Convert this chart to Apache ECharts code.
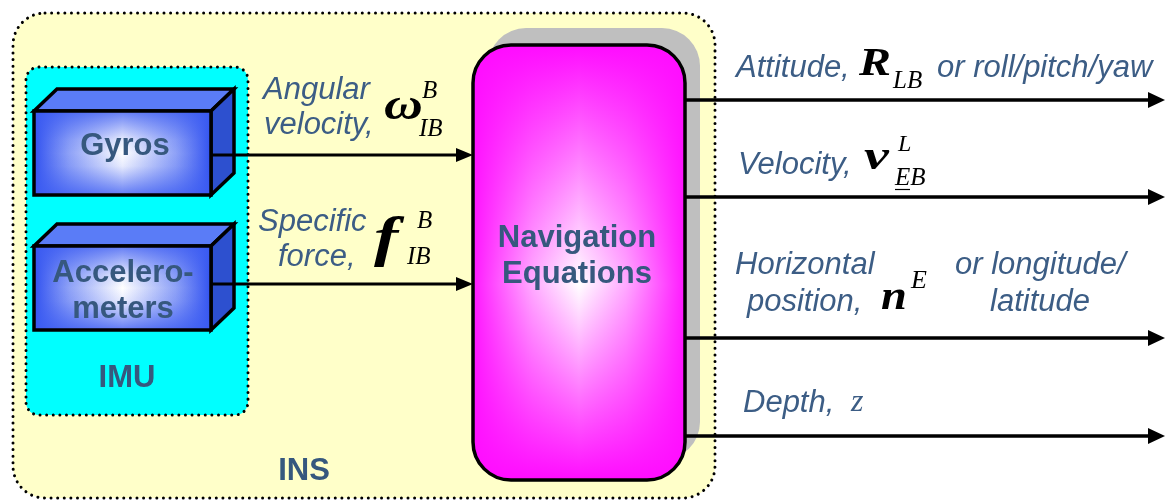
<!DOCTYPE html>
<html>
<head>
<meta charset="utf-8">
<script src="https://cdn.jsdelivr.net/npm/echarts@6/dist/echarts.min.js"></script>
<style>
html,body{margin:0;padding:0;background:#fff;}
#c{width:1165px;height:501px;}
</style>
</head>
<body>
<div id="c"></div>
<script>
// ---- diagram content (text) ----
const blockNames = ['Gyros', 'Accelero-', 'meters', 'IMU', 'INS', 'Navigation', 'Equations'];
const inputLabels = ['Angular', 'velocity,', 'Specific', 'force,'];
const inputSymbols = ['\u03C9', 'f'];
const inputSup = ['B', 'B'];
const inputSub = ['IB', 'IB'];
const outputLabels = ['Attitude,', 'or roll/pitch/yaw', 'Velocity,', 'Horizontal', 'position,', 'or longitude/', 'latitude', 'Depth,'];
const outputSymbols = ['R', 'v', 'n', 'z'];
const outputSup = ['', 'L', 'E', ''];
const outputSub = ['LB', 'EB', '', ''];

const SANS = "'Liberation Sans', Arial, sans-serif";
const SERIF = "'Liberation Serif', 'Times New Roman', serif";
const BLUE_TXT = '#3C5D85';
const BOLD_TXT = '#36587E';

const els = [];

function T(text, x, base, size, o) {
  o = o || {};
  const k = o.serif ? 0.32 : 0.31;
  els.push({
    type: 'text', x: x, y: base - k * size, z: 10,
    scaleX: o.sx || 1,
    style: {
      text: text,
      font: (o.italic ? 'italic ' : '') + (o.bold ? 'bold ' : '') + size + 'px ' + (o.serif ? SERIF : SANS),
      fill: o.color || '#000',
      align: o.align || 'left',
      verticalAlign: 'middle'
    }
  });
}
function dotted(x, y, w, h, r, fill) {
  els.push({ type: 'rect', shape: { x: x, y: y, width: w, height: h, r: r }, style: { fill: fill, stroke: null } });
  els.push({ type: 'rect', shape: { x: x, y: y, width: w, height: h, r: r },
    style: { fill: null, stroke: '#000', lineWidth: 3, lineDash: [0.01, 6.6], lineCap: 'round' }, z: 2 });
}
function box3d(x, y, w, h, dx, dy) {
  const S = { stroke: '#000', lineWidth: 3.5, lineJoin: 'miter' };
  els.push({ type: 'polygon', z: 3, shape: { points: [[x, y], [x + dx, y - dy], [x + w + dx, y - dy], [x + w, y]] },
    style: Object.assign({ fill: '#5A7CF7' }, S) });
  els.push({ type: 'polygon', z: 3, shape: { points: [[x + w, y], [x + w + dx, y - dy], [x + w + dx, y + h - dy], [x + w, y + h]] },
    style: Object.assign({ fill: '#2D50CF' }, S) });
  els.push({ type: 'rect', z: 3, shape: { x: x, y: y, width: w, height: h },
    style: { fill: { type: 'linear', x: 0, y: 0, x2: 1, y2: 0, colorStops: [
      { offset: 0, color: '#3152F0' }, { offset: 0.2, color: '#8FA2F7' }, { offset: 0.5, color: '#FFFFFF' },
      { offset: 0.8, color: '#8FA2F7' }, { offset: 1, color: '#3152F0' }] } } });
  els.push({ type: 'rect', z: 3, shape: { x: x, y: y, width: w, height: h },
    style: Object.assign({ fill: { type: 'linear', x: 0, y: 0, x2: 0, y2: 1, colorStops: [
      { offset: 0, color: 'rgba(60,92,242,0.85)' }, { offset: 0.35, color: 'rgba(60,92,242,0.12)' },
      { offset: 0.5, color: 'rgba(60,92,242,0)' }, { offset: 0.65, color: 'rgba(60,92,242,0.12)' },
      { offset: 1, color: 'rgba(60,92,242,0.85)' }] } }, S) });
}
function arrow(x1, x2, y, lw, head, half) {
  els.push({ type: 'line', z: 5, shape: { x1: x1, y1: y, x2: x2 - head + 2, y2: y }, style: { stroke: '#000', lineWidth: lw } });
  els.push({ type: 'polygon', z: 5, shape: { points: [[x2 - head, y - half], [x2, y], [x2 - head, y + half]] }, style: { fill: '#000' } });
}

// INS and IMU containers
dotted(13, 13, 702, 485, 32, '#FFFFC9');
dotted(26, 67, 222, 348, 13, '#00FFFF');

// sensor blocks
box3d(34, 111, 177, 84, 23, 22);
box3d(34, 246, 177, 84, 23, 22);

// navigation equations block
els.push({ type: 'rect', z: 3, shape: { x: 488, y: 28, width: 212, height: 432, r: 38 }, style: { fill: '#BFBFBF' } });
els.push({ type: 'rect', z: 4, shape: { x: 473, y: 45, width: 212, height: 435, r: 38 },
  style: { fill: { type: 'linear', x: 0, y: 0, x2: 0, y2: 1, colorStops: [
    { offset: 0, color: '#FF0CFF' }, { offset: 0.22, color: '#FF6CFF' }, { offset: 0.55, color: '#FFFFFF' },
    { offset: 0.82, color: '#FF6CFF' }, { offset: 1, color: '#FF0CFF' }] } } });
els.push({ type: 'rect', z: 4, shape: { x: 473, y: 45, width: 212, height: 435, r: 38 },
  style: { fill: { type: 'linear', x: 0, y: 0, x2: 1, y2: 0, colorStops: [
    { offset: 0, color: 'rgba(255,12,255,0.95)' }, { offset: 0.28, color: 'rgba(255,12,255,0.35)' },
    { offset: 0.5, color: 'rgba(255,12,255,0)' }, { offset: 0.72, color: 'rgba(255,12,255,0.35)' },
    { offset: 1, color: 'rgba(255,12,255,0.95)' }] } } });
els.push({ type: 'rect', z: 6, shape: { x: 473, y: 45, width: 212, height: 435, r: 38 },
  style: { fill: null, stroke: '#000', lineWidth: 3.5 } });

// arrows
arrow(211, 473, 155, 3.2, 17, 7);
arrow(211, 473, 284, 3.2, 17, 7);
[100, 197, 338, 436].forEach(function (y) { arrow(685, 1165, y, 3.6, 17, 8); });

// block labels
T(blockNames[0], 125, 156, 31, { bold: true, align: 'center', color: BOLD_TXT });
T(blockNames[1], 123, 283, 31, { bold: true, align: 'center', color: BOLD_TXT });
T(blockNames[2], 123, 319, 31, { bold: true, align: 'center', color: BOLD_TXT });
T(blockNames[3], 127, 388, 31, { bold: true, align: 'center', color: BOLD_TXT });
T(blockNames[4], 304, 481, 31, { bold: true, align: 'center', color: BOLD_TXT });
T(blockNames[5], 577, 248, 31, { bold: true, align: 'center', color: BOLD_TXT });
T(blockNames[6], 577, 284, 31, { bold: true, align: 'center', color: BOLD_TXT });

// input labels
T(inputLabels[0], 263, 100, 31, { italic: true, color: BLUE_TXT });
T(inputLabels[1], 264, 135, 31, { italic: true, color: BLUE_TXT });
T(inputLabels[2], 258, 232, 31, { italic: true, color: BLUE_TXT });
T(inputLabels[3], 278, 267, 31, { italic: true, color: BLUE_TXT });
T(inputSymbols[0], 384, 122, 44, { italic: true, bold: true, serif: true, sx: 1.22 });
T(inputSup[0], 422, 99, 25, { italic: true, serif: true });
T(inputSub[0], 419, 137, 25, { italic: true, serif: true });
T(inputSymbols[1], 374, 258, 54, { italic: true, bold: true, serif: true, sx: 1.35 });
T(inputSup[1], 417, 229, 25, { italic: true, serif: true });
T(inputSub[1], 407, 265, 25, { italic: true, serif: true });

// output labels
T(outputLabels[0], 736, 78, 31, { italic: true, color: BLUE_TXT });
T(outputSymbols[0], 859, 77, 40, { italic: true, bold: true, serif: true, sx: 1.2 });
T(outputSub[0], 893, 89, 25, { italic: true, serif: true });
T(outputLabels[1], 937, 78, 31, { italic: true, color: BLUE_TXT });

T(outputLabels[2], 738, 175, 31, { italic: true, color: BLUE_TXT });
T(outputSymbols[1], 864, 172, 43, { italic: true, bold: true, serif: true, sx: 1.3 });
T(outputSup[1], 898, 152, 24, { italic: true, serif: true });
T(outputSub[1], 895, 186, 25, { italic: true, serif: true });
els.push({ type: 'line', z: 10, shape: { x1: 895, y1: 189.5, x2: 910, y2: 189.5 }, style: { stroke: '#000', lineWidth: 1.2 } });

T(outputLabels[3], 735, 275, 31, { italic: true, color: BLUE_TXT });
T(outputLabels[4], 747, 312, 31, { italic: true, color: BLUE_TXT });
T(outputSymbols[2], 881, 312, 43, { italic: true, bold: true, serif: true, sx: 1.08 });
T(outputSup[2], 911, 289, 26, { italic: true, serif: true });
T(outputLabels[5], 955, 275, 31, { italic: true, color: BLUE_TXT });
T(outputLabels[6], 990, 312, 31, { italic: true, color: BLUE_TXT });

T(outputLabels[7], 743, 413, 31, { italic: true, color: BLUE_TXT });
T(outputSymbols[3], 851, 413, 32, { italic: true, serif: true, color: BLUE_TXT });

const chart = echarts.init(document.getElementById('c'), null, { renderer: 'canvas' });
chart.setOption({
  animation: false,
  backgroundColor: '#ffffff',
  graphic: { elements: els }
});
</script>
</body>
</html>
